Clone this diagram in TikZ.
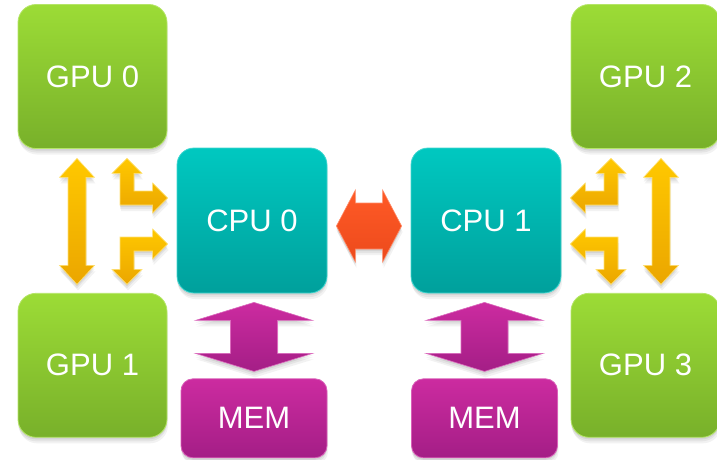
\documentclass[tikz,border=0pt]{standalone}
\usepackage{fontspec}
\setmainfont{Liberation Sans}
\usetikzlibrary{positioning}
\usetikzlibrary{calc}
\usetikzlibrary{shadows}
\definecolor{gputop}{HTML}{9CDC36}
\definecolor{gpubot}{HTML}{78B02A}
\definecolor{cputop}{HTML}{00C8C0}
\definecolor{cpubot}{HTML}{00A09C}
\definecolor{memtop}{HTML}{CC2BA0}
\definecolor{membot}{HTML}{A41E86}
\definecolor{linktop}{HTML}{FFC800}
\definecolor{linkbot}{HTML}{EBA600}
\definecolor{qpitop}{HTML}{FF5A26}
\definecolor{qpibot}{HTML}{EC4A1C}
\tikzset{%
  softshadow/.style={general shadow={fill=black, opacity=0.07, shadow yshift=-2pt},
                     general shadow={fill=black, opacity=0.06, shadow yshift=-4pt},
                     general shadow={fill=black, opacity=0.05, shadow yshift=-6pt, shadow xshift=1pt}},
  unit/.style={text=white, font=\fontsize{31}{36}\selectfont, softshadow, line width=0.8pt},
  gpubox/.style={unit, rounded corners=18pt, minimum width=149pt, minimum height=144pt,
                 top color=gputop, bottom color=gpubot, draw=gputop!75!white},
  cpubox/.style={unit, rounded corners=17pt, minimum width=150pt, minimum height=145pt,
                 top color=cputop, bottom color=cpubot, draw=cputop!75!white},
  membox/.style={unit, rounded corners=12pt, minimum width=146pt, minimum height=79pt,
                 top color=memtop, bottom color=membot, draw=memtop!75!white},
  pcie/.style={top color=linktop, bottom color=linkbot, draw=linktop!55!white, line width=0.6pt, softshadow},
  qpi/.style={top color=qpitop, bottom color=qpibot, draw=qpitop!70!white, line width=0.6pt, softshadow},
  membus/.style={top color=memtop, bottom color=membot, draw=memtop!70!white, line width=0.6pt, softshadow}
}
% block arrow with two heads: style, tip, tip, half shaft, half head, head length
\newcommand{\dblarrow}[6]{%
  \path[#1] (#2) -- ($(#2)!#6pt!(#3)!#5pt!90:(#3)$) -- ($(#2)!#6pt!(#3)!#4pt!90:(#3)$)
    -- ($(#3)!#6pt!(#2)!#4pt!-90:(#2)$) -- ($(#3)!#6pt!(#2)!#5pt!-90:(#2)$) -- (#3)
    -- ($(#3)!#6pt!(#2)!#5pt!90:(#2)$) -- ($(#3)!#6pt!(#2)!#4pt!90:(#2)$)
    -- ($(#2)!#6pt!(#3)!#4pt!-90:(#3)$) -- ($(#2)!#6pt!(#3)!#5pt!-90:(#3)$) -- cycle;
}
% bent block arrow: style, vertical tip, horizontal tip, x sign, y sign
\newcommand{\bentarrow}[5]{%
  \path[#1] let \p1=(#2), \p2=(#3) in
    (\p1) -- ({\x1+(#4)*15pt},{\y1-(#5)*15pt}) -- ({\x1+(#4)*7pt},{\y1-(#5)*15pt})
    -- ({\x1+(#4)*7pt},{\y2+(#5)*7pt}) -- ({\x2-(#4)*15pt},{\y2+(#5)*7pt})
    -- ({\x2-(#4)*15pt},{\y2+(#5)*15pt}) -- (\p2)
    -- ({\x2-(#4)*15pt},{\y2-(#5)*15pt}) -- ({\x2-(#4)*15pt},{\y2-(#5)*7pt})
    -- ({\x1-(#4)*7pt},{\y2-(#5)*7pt}) -- ({\x1-(#4)*7pt},{\y1-(#5)*15pt})
    -- ({\x1-(#4)*15pt},{\y1-(#5)*15pt}) -- cycle;
}

\begin{document}
\begin{tikzpicture}[x=1pt, y=1pt]
  \useasboundingbox (0,0) rectangle (717,-460);
  \node[gpubox] (gpu0) at (92.5,-76.5) {GPU 0};
  \node[gpubox, below=144pt of gpu0] (gpu1) {GPU 1};
  \node[gpubox] (gpu2) at (645.5,-76.5) {GPU 2};
  \node[gpubox, below=144pt of gpu2] (gpu3) {GPU 3};
  \node[cpubox] (cpu0) at (252,-220.5) {CPU 0};
  \node[cpubox] (cpu1) at (486,-220.5) {CPU 1};
  \node[membox, below=85pt of cpu0, xshift=2pt] (mem0) {MEM};
  \node[membox, below=85pt of cpu1, xshift=-1.5pt] (mem1) {MEM};
  % gpu links, left socket
  \coordinate (p0) at ($(gpu0.south)+(-15.5,-9.5)$);
  \coordinate (p1) at ($(gpu1.north)+(-15.5,8.5)$);
  \coordinate (q0) at ($(gpu0.south)+(34.5,-9.5)$);
  \coordinate (q1) at ($(gpu1.north)+(34.5,8.5)$);
  \coordinate (r0) at ($(cpu0.west)+(-9,22.5)$);
  \coordinate (r1) at ($(cpu0.west)+(-9,-23.5)$);
  \dblarrow{pcie}{p0}{p1}{9}{17.5}{19}
  \bentarrow{pcie}{q0}{r0}{1}{1}
  \bentarrow{pcie}{q1}{r1}{1}{-1}
  % gpu links, right socket
  \coordinate (p2) at ($(gpu2.south)+(15.5,-9.5)$);
  \coordinate (p3) at ($(gpu3.north)+(15.5,8.5)$);
  \coordinate (q2) at ($(gpu2.south)+(-34.5,-9.5)$);
  \coordinate (q3) at ($(gpu3.north)+(-34.5,8.5)$);
  \coordinate (r2) at ($(cpu1.east)+(9,22.5)$);
  \coordinate (r3) at ($(cpu1.east)+(9,-23.5)$);
  \dblarrow{pcie}{p2}{p3}{9}{17.5}{19}
  \bentarrow{pcie}{q2}{r2}{-1}{1}
  \bentarrow{pcie}{q3}{r3}{-1}{-1}
  % cpu to cpu
  \coordinate (s0) at ($(cpu0.east)+(9,-5.5)$);
  \coordinate (s1) at ($(cpu1.west)+(-9,-5.5)$);
  \dblarrow{qpi}{s0}{s1}{23}{36}{19}
  % memory
  \coordinate (m0) at ($(mem0.north)+(0,76)$);
  \coordinate (m1) at ($(mem0.north)+(0,7)$);
  \coordinate (m2) at ($(mem1.north)+(0,76)$);
  \coordinate (m3) at ($(mem1.north)+(0,7)$);
  \dblarrow{membus}{m0}{m1}{23.5}{58.5}{18}
  \dblarrow{membus}{m2}{m3}{23.5}{58.5}{18}
\end{tikzpicture}
\end{document}
